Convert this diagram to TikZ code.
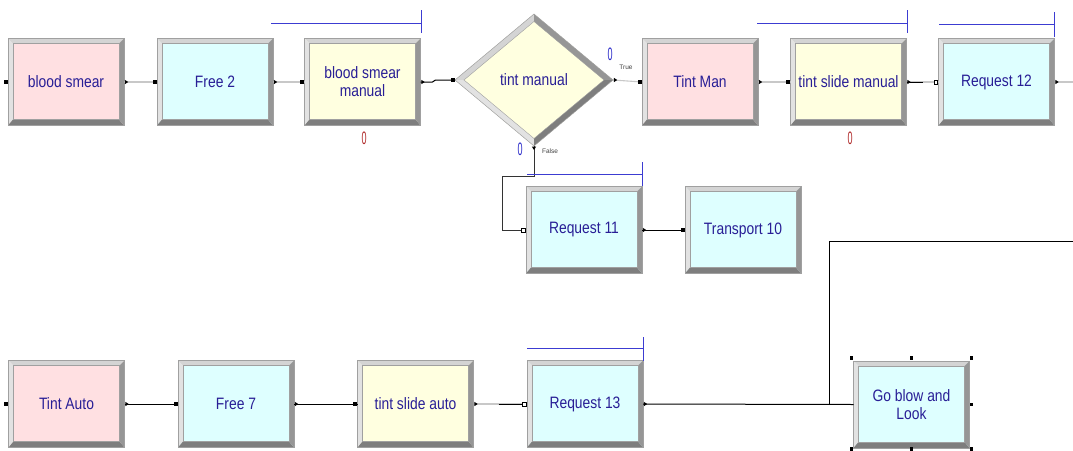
\documentclass[tikz,border=0pt]{standalone}
\usepackage{fontspec}
\setmainfont{Liberation Sans}
\newfontfamily\modfont[FakeStretch=0.84]{Liberation Sans}
\newfontfamily\cntfont[FakeStretch=0.5]{Liberation Sans}
\usetikzlibrary{shapes.geometric}

\definecolor{createfill}{RGB}{255,224,226}
\definecolor{resfill}{RGB}{222,255,255}
\definecolor{procfill}{RGB}{255,255,224}
\definecolor{bevtop}{RGB}{212,212,212}
\definecolor{bevleft}{RGB}{226,226,226}
\definecolor{bevbottom}{RGB}{126,126,126}
\definecolor{bevright}{RGB}{150,150,150}
\definecolor{edgegray}{RGB}{160,160,160}
\definecolor{modtext}{RGB}{40,30,150}
\definecolor{qblue}{RGB}{60,60,210}
\definecolor{linkgray}{RGB}{200,200,200}
\definecolor{countred}{RGB}{175,40,40}
\definecolor{countblue}{RGB}{40,40,200}

% entry / exit ports of a module
\newcommand\portin[1]{\fill (#1) ++(-4.5pt,-2pt) rectangle ++(4pt,4pt);}
\newcommand\portreq[1]{\draw[line width=0.6pt,fill=white] (#1) ++(-4.5pt,-1.8pt) rectangle ++(3.6pt,3.6pt);}
\newcommand\portout[1]{\fill (#1) ++(0.8pt,-2.2pt) -- ++(3.4pt,2.2pt) -- ++(-3.4pt,2.2pt) -- cycle;}

\begin{document}
\begin{tikzpicture}[x=1pt,y=-1pt,
  mod/.style={rectangle, minimum width=116pt, minimum height=87pt,
    inner sep=0pt, outer sep=0pt, fill=#1, draw=edgegray, line width=0.5pt,
    text=modtext, font=\modfont\fontsize{16.5}{18}\selectfont, align=center,
    path picture={
      \coordinate (pA) at (path picture bounding box.north west);
      \coordinate (pB) at (path picture bounding box.north east);
      \coordinate (pC) at (path picture bounding box.south east);
      \coordinate (pD) at (path picture bounding box.south west);
      \fill[bevtop] (pA) -- (pB) -- ([shift={(-5pt,-5pt)}]pB) -- ([shift={(5pt,-5pt)}]pA) -- cycle;
      \fill[bevleft] (pA) -- (pD) -- ([shift={(5pt,6pt)}]pD) -- ([shift={(5pt,-5pt)}]pA) -- cycle;
      \fill[bevbottom] (pD) -- (pC) -- ([shift={(-5pt,6pt)}]pC) -- ([shift={(5pt,6pt)}]pD) -- cycle;
      \fill[bevright] (pB) -- (pC) -- ([shift={(-5pt,6pt)}]pC) -- ([shift={(-5pt,-5pt)}]pB) -- cycle;
      \draw[edgegray, line width=0.4pt] ([shift={(5pt,-5pt)}]pA) rectangle ([shift={(-5pt,6pt)}]pC);
    }},
  decide/.style={diamond, aspect=1.2, minimum width=158pt, minimum height=132pt,
    inner sep=0pt, outer sep=0pt, fill=procfill, draw=edgegray, line width=0.5pt,
    text=modtext, font=\modfont\fontsize{16.5}{18}\selectfont,
    path picture={
      \coordinate (qW) at (path picture bounding box.west);
      \coordinate (qN) at (path picture bounding box.north);
      \coordinate (qE) at (path picture bounding box.east);
      \coordinate (qS) at (path picture bounding box.south);
      \coordinate (iW) at ([shift={(9pt,0pt)}]qW);
      \coordinate (iN) at ([shift={(0pt,-7.5pt)}]qN);
      \coordinate (iE) at ([shift={(-9pt,0pt)}]qE);
      \coordinate (iS) at ([shift={(0pt,7.5pt)}]qS);
      \fill[bevtop] (qW) -- (qN) -- (iN) -- (iW) -- cycle;
      \fill[bevleft] (qW) -- (qS) -- (iS) -- (iW) -- cycle;
      \fill[bevright] (qN) -- (qE) -- (iE) -- (iN) -- cycle;
      \fill[bevbottom] (qE) -- (qS) -- (iS) -- (iE) -- cycle;
      \draw[edgegray, line width=0.4pt] (iW) -- (iN) -- (iE) -- (iS) -- cycle;
    }},
  queue/.style={qblue, line width=0.9pt},
  graylink/.style={linkgray, line width=1.1pt},
  blacklink/.style={black, line width=1pt},
  count/.style={font=\cntfont\fontsize{18}{18}\selectfont, inner sep=0pt},
  tiny/.style={font=\fontsize{6.5}{7}\selectfont, text=black!75, inner sep=0pt},
  handle/.style={fill=black}
]
\path[use as bounding box] (0,0) rectangle (1073,450);

% ---- upper line: manual tint ----
\node[mod=createfill] (bs)   at (66,82)    {blood smear};
\node[mod=resfill]   (fr2)   at (215,82)   {Free 2};
\node[mod=procfill]  (bsm)   at (362.5,82) {blood smear\\manual};
\node[decide]        (dec)   at (534,80)   {tint manual};
\node[mod=createfill] (tm)   at (700,82)   {Tint Man};
\node[mod=procfill]  (tsm)   at (848.5,82) {tint slide manual};
\node[mod=resfill]   (rq12)  at (996.5,82) {Request 12};
\coordinate (rq12out) at (1073,82);

% ---- middle line ----
\node[mod=resfill]   (rq11)  at (584,230)  {Request 11};
\node[mod=resfill]   (tr10)  at (743,230)  {Transport 10};

% ---- lower line: automatic tint ----
\node[mod=createfill] (ta)   at (66.5,404) {Tint Auto};
\node[mod=resfill]   (fr7)   at (236,404)  {Free 7};
\node[mod=procfill]  (tsa)   at (415.5,404){tint slide auto};
\node[mod=resfill]   (rq13)  at (585,404)  {Request 13};
\node[mod=resfill]   (gb)    at (911.5,404.5) {Go blow and\\Look};

% ---- connectors ----
\draw[graylink] (bs.east) -- (fr2.west);
\draw[graylink] (fr2.east) -- (bsm.west);
\draw[blacklink] (bsm.east) -- ++(12,0) -- ++(3,-2) -- (dec.west);
\draw[graylink] (dec.east) -- (tm.west);
\draw[graylink] (tm.east) -- (tsm.west);
\draw[graylink] (tsm.east) -- (rq12.west);
\draw[blacklink, shorten >=16pt] (tsm.east) -- (rq12.west);
\draw[graylink] (rq12.east) -- (rq12out);

\coordinate (lp1) at (534,176);
\coordinate (lp2) at (502,176);
\coordinate (lp3) at (502,230);
\draw[black!80, line width=0.9pt] (dec.south) -- (lp1) -- (lp2) -- (lp3) -- (rq11.west);
\draw[blacklink] (rq11.east) -- (tr10.west);

\draw[blacklink] (ta.east) -- (fr7.west);
\draw[blacklink] (fr7.east) -- (tsa.west);
\draw[graylink] (tsa.east) -- (rq13.west);
\draw[blacklink, shorten <=25pt] (tsa.east) -- (rq13.west);
\coordinate (jn) at (829,404);
\coordinate (jtop) at (829,241);
\coordinate (jright) at (1073,241);
\draw[blacklink] (rq13.east) -- (gb.west);
\draw[black, line width=0.7pt] (jn) -- (jtop) -- (jright);

% ---- ports ----
\portin{bs.west}   \portout{bs.east}
\portin{fr2.west}  \portout{fr2.east}
\portin{bsm.west}  \portout{bsm.east}
\portin{dec.west}  \portout{dec.east}
\portin{tm.west}   \portout{tm.east}
\portin{tsm.west}  \portout{tsm.east}
\portreq{rq12.west} \portout{rq12.east}
\fill (dec.south) ++(-2.2pt,-0.5pt) -- ++(4.4pt,0) -- ++(-2.2pt,-3.5pt) -- cycle;
\portreq{rq11.west} \portout{rq11.east}
\portin{tr10.west}
\portin{ta.west}   \portout{ta.east}
\portin{fr7.west}  \portout{fr7.east}
\portin{tsa.west}  \portout{tsa.east}
\portreq{rq13.west} \portout{rq13.east}

% ---- queue animation brackets ----
\draw[queue] (271,23) -- (421,23) (421,10) -- (421,33);
\draw[queue] (757,23) -- (907,23) (907,10) -- (907,33);
\draw[queue] (939,24) -- (1054,24) (1054,12) -- (1054,37);
\draw[queue] (527,174) -- (642,174) (642,162) -- (642,186);
\draw[queue] (527,348) -- (643,348) (643,337) -- (643,361);

% ---- counters and branch labels ----
\node[count, text=countred]  (c1) at (364,138) {0};
\node[count, text=countred]  (c2) at (850,138) {0};
\node[count, text=countblue] (c3) at (610,54)  {0};
\node[count, text=countblue] (c4) at (520,149) {0};
\node[tiny] (ltrue)  at (626,67)  {True};
\node[tiny] (lfalse) at (550,151) {False};

% ---- selection handles ----
\foreach \a/\dx/\dy in {north west/-2/3, north/0/3, north east/2/3, east/2/0,
                        south west/-2/-1, south/0/-1, south east/2/-1}
  \fill[handle] ([shift={(\dx pt,\dy pt)}]gb.\a) ++(-1.8pt,-1.8pt) rectangle ++(3.6pt,3.6pt);
\end{tikzpicture}
\end{document}
